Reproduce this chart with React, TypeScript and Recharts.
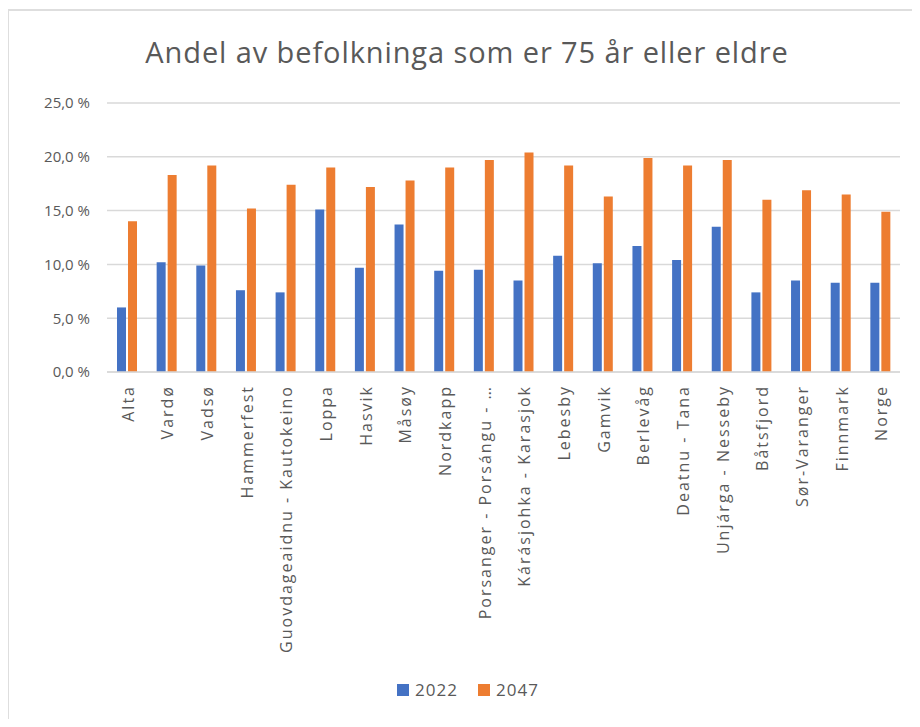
import React from "react"
import { BarChart, Bar, XAxis, YAxis, CartesianGrid, Legend } from "recharts"

// Andel av befolkninga 75+ — Finnmark-kommunar, 2022 vs 2047

const kommunar = [
  "Alta", "Vardø", "Vadsø", "Hammerfest", "Guovdageaidnu - Kautokeino",
  "Loppa", "Hasvik", "Måsøy", "Nordkapp", "Porsanger - Porsángu - …",
  "Kárásjohka - Karasjok", "Lebesby", "Gamvik", "Berlevåg", "Deatnu - Tana",
  "Unjárga - Nesseby", "Båtsfjord", "Sør-Varanger", "Finnmark", "Norge",
]

const andel2022 = [
  6.0, 10.2, 9.9, 7.6, 7.4, 15.1, 9.7, 13.7, 9.4, 9.5,
  8.5, 10.8, 10.1, 11.7, 10.4, 13.5, 7.4, 8.5, 8.3, 8.3,
]

const andel2047 = [
  14.0, 18.3, 19.2, 15.2, 17.4, 19.0, 17.2, 17.8, 19.0, 19.7,
  20.4, 19.2, 16.3, 19.9, 19.2, 19.7, 16.0, 16.9, 16.5, 14.9,
]

const yTicks = [0, 5, 10, 15, 20, 25]

const data = kommunar.map((namn, i) => ({
  namn,
  y2022: andel2022[i],
  y2047: andel2047[i],
}))

const GREY = "#595959"
const FONT = "'Open Sans', 'Liberation Sans', sans-serif"

function fmtPct(v: number): string {
  return `${v.toFixed(1).replace(".", ",")} %`
}

function XTick({ x, y, payload }: { x?: number; y?: number; payload?: { value: string } }) {
  return (
    <g transform={`translate(${(x ?? 0) + 1},${(y ?? 0) + 5})`}>
      <text
        transform="rotate(-90)"
        textAnchor="end"
        dominantBaseline="central"
        fill={GREY}
        fontSize={16}
        fontFamily={FONT}
        style={{ letterSpacing: "2px" }}
      >
        {payload?.value}
      </text>
    </g>
  )
}

function LegendBox({ payload }: { payload?: { value: string; color?: string }[] }) {
  return (
    <div style={{ display: "flex", justifyContent: "center", alignItems: "center", gap: 20 }}>
      {(payload ?? []).map((p) => (
        <div key={p.value} style={{ display: "flex", alignItems: "center" }}>
          <span style={{ display: "inline-block", width: 12, height: 12, background: p.color, marginRight: 6 }} />
          <span style={{ color: GREY, fontFamily: FONT, fontSize: 17, letterSpacing: "1px" }}>{p.value}</span>
        </div>
      ))}
    </div>
  )
}

export default function App() {
  return (
    <div style={{ position: "relative", width: 920, height: 727, margin: -8, background: "#fff", overflow: "hidden" }}>
      <div
        style={{
          position: "absolute", left: 7, top: 9, width: 920, height: 730,
          border: "2px solid #dedede", boxSizing: "border-box",
        }}
      />
      <div
        style={{
          position: "absolute", left: 0, top: 32, width: 934, textAlign: "center",
          fontFamily: FONT, fontSize: 29, letterSpacing: "0.9px", color: GREY,
        }}
      >
        Andel av befolkninga som er 75 år eller eldre
      </div>
      <div style={{ position: "absolute", left: 0, top: 0 }}>
        <BarChart
          width={920}
          height={727}
          data={data}
          margin={{ top: 103, right: 20, left: 0, bottom: 0 }}
          barGap={2}
          barCategoryGap="36%"
        >
          <CartesianGrid vertical={false} stroke="#d9d9d9" strokeWidth={1.5} />
          <XAxis
            dataKey="namn"
            interval={0}
            height={355}
            tickLine={false}
            axisLine={{ stroke: "#d9d9d9", strokeWidth: 1.5 }}
            tick={<XTick />}
          />
          <YAxis
            width={107}
            domain={[0, 25]}
            ticks={yTicks}
            tickFormatter={fmtPct}
            tickLine={false}
            axisLine={false}
            tickMargin={11}
            tick={{ fill: GREY, fontSize: 15, fontFamily: FONT }}
          />
          <Legend
            layout="horizontal"
            verticalAlign="middle"
            align="center"
            wrapperStyle={{ top: 678, left: 8, width: 920 }}
            content={<LegendBox />}
          />
          <Bar dataKey="y2022" name="2022" fill="#4472C4" barSize={9} isAnimationActive={false} />
          <Bar dataKey="y2047" name="2047" fill="#ED7D31" barSize={9} isAnimationActive={false} />
        </BarChart>
      </div>
    </div>
  )
}
